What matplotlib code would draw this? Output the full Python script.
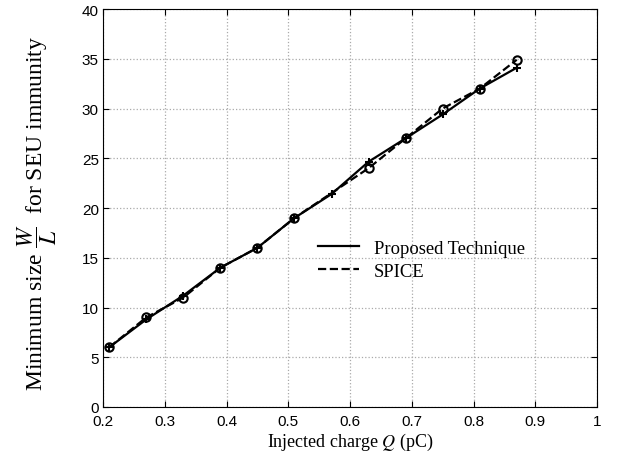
import matplotlib
matplotlib.use("Agg")
import matplotlib.pyplot as plt

charge = [0.21, 0.27, 0.33, 0.39, 0.45, 0.51, 0.57, 0.63, 0.69, 0.75, 0.81, 0.87]
proposed = [6.0, 8.8, 11.2, 14.0, 16.0, 19.0, 21.4, 24.65, 27.0, 29.4, 32.0, 34.1]
spice_charge = [0.21, 0.27, 0.33, 0.39, 0.45, 0.51, 0.63, 0.69, 0.75, 0.81, 0.87]
spice = [6.0, 9.0, 11.0, 14.0, 16.0, 19.0, 24.0, 27.0, 30.0, 32.0, 34.9]

xticks = [0.2, 0.3, 0.4, 0.5, 0.6, 0.7, 0.8, 0.9, 1.0]
xticklabels = ["0.2", "0.3", "0.4", "0.5", "0.6", "0.7", "0.8", "0.9", "1"]
yticks = [0, 5, 10, 15, 20, 25, 30, 35, 40]

plt.rcParams['mathtext.fontset'] = 'stix'

fig = plt.figure(figsize=(6.17, 4.64), dpi=100)
ax = fig.add_axes([0.167, 0.1207, 0.8006, 0.8577])

ax.plot(charge, proposed, '-', color='black', lw=1.6, marker='+', ms=6, mew=1.5,
        label='Proposed Technique')
ax.plot(spice_charge, spice, '--', color='black', lw=1.6, marker='o', ms=6,
        mfc='none', mew=1.5, label='SPICE')

ax.set_xlim(0.2, 1.0)
ax.set_ylim(0, 40)
ax.set_xticks(xticks)
ax.set_xticklabels(xticklabels, family='Liberation Sans', fontsize=11)
ax.set_yticks(yticks)
ax.set_yticklabels([str(v) for v in yticks], family='Liberation Sans', fontsize=11)
ax.tick_params(direction='in', top=True, right=True, length=4, width=0.8)
ax.tick_params(axis='y', pad=3)
ax.tick_params(axis='x', pad=5)
ax.grid(True, linestyle=':', color='#aaaaaa', linewidth=0.9)
for s in ax.spines.values():
    s.set_linewidth(0.8)

ax.set_xlabel(r'Injected charge $Q$ (pC)', family='Liberation Serif', fontsize=13, labelpad=2)
ax.set_ylabel(r'Minimum size $\dfrac{W}{L}$  for SEU immunity', family='Liberation Serif',
              fontsize=17)
ax.yaxis.set_label_coords(-0.09, 0.49)

leg = ax.legend(loc='center', bbox_to_anchor=(0.645, 0.37), frameon=False,
                prop={'family': 'Liberation Serif', 'size': 13.4}, handlelength=2.2,
                labelspacing=0.3)
for h in leg.get_lines():
    h.set_marker('')

fig.savefig('out.png', dpi=100)
